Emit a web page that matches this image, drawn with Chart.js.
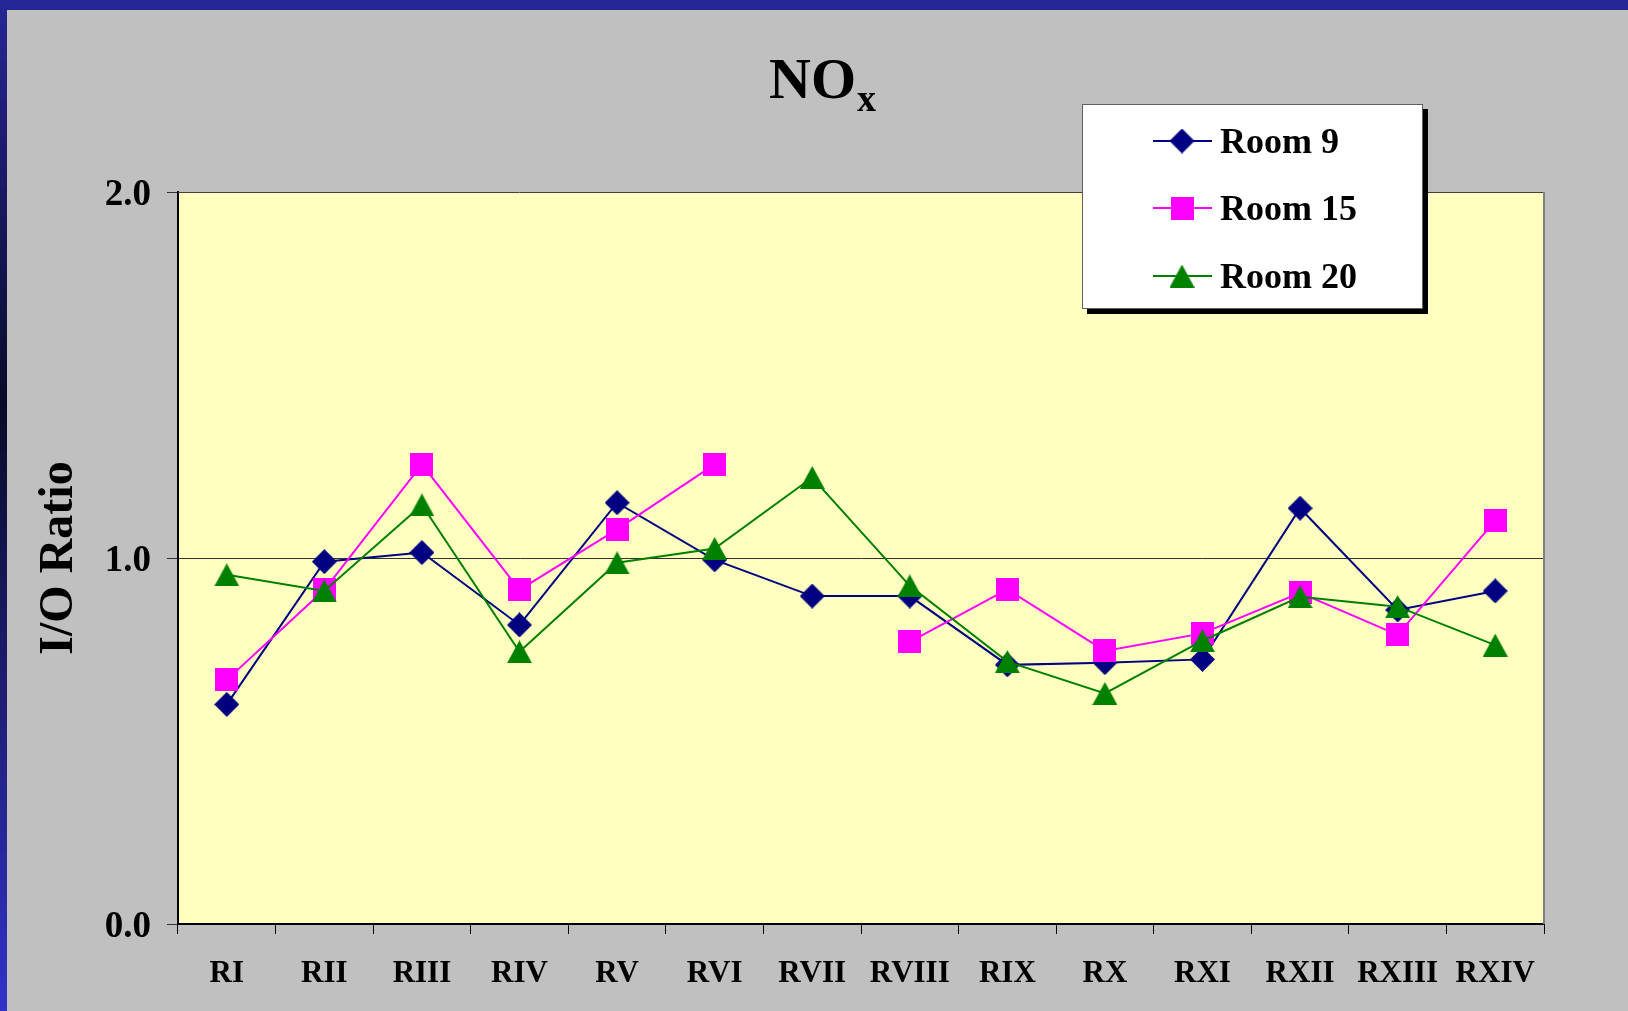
<!DOCTYPE html>
<html>
<head>
<meta charset="utf-8">
<title>NOx I/O Ratio</title>
<script src="https://cdn.jsdelivr.net/npm/chart.js@4.4.1/dist/chart.umd.min.js"></script>
<style>
  html, body { margin: 0; padding: 0; background: #c0c0c0; }
  canvas { display: block; }
</style>
</head>
<body>
<canvas id="noxChart" width="1628" height="1011"></canvas>
<script>
// --- data ---
const rooms = ['RI', 'RII', 'RIII', 'RIV', 'RV', 'RVI', 'RVII', 'RVIII', 'RIX', 'RX', 'RXI', 'RXII', 'RXIII', 'RXIV'];
const room9 = [0.60, 0.99, 1.015, 0.817, 1.151, 0.995, 0.896, 0.896, 0.708, 0.714, 0.723, 1.136, 0.858, 0.91];
const room15 = [0.667, 0.913, 1.256, 0.913, 1.078, 1.256, null, 0.771, 0.914, 0.746, 0.794, 0.905, 0.79, 1.102];
const room20 = [0.954, 0.91, 1.145, 0.744, 0.987, 1.026, 1.22, 0.924, 0.717, 0.63, 0.774, 0.894, 0.867, 0.762];
const yTicks = [0, 1, 2];

const SERIF = '"Liberation Serif", "Times New Roman", serif';
const NAVY = '#000080';
const MAGENTA = '#ff00ff';
const GREEN = '#008000';

// marker bitmaps, so every shape is centred on its point like in Excel
function makeMarker(shape, color, w, h) {
  const c = document.createElement('canvas');
  c.width = w; c.height = h;
  const g = c.getContext('2d');
  g.fillStyle = color;
  g.beginPath();
  if (shape === 'diamond') {
    g.moveTo(w / 2, 0); g.lineTo(w, h / 2); g.lineTo(w / 2, h); g.lineTo(0, h / 2);
  } else if (shape === 'triangle') {
    g.moveTo(w / 2, 0); g.lineTo(w, h); g.lineTo(0, h);
  } else {
    g.rect(0, 0, w, h);
  }
  g.closePath();
  g.fill();
  return c;
}
const diamond = makeMarker('diamond', NAVY, 25, 25);
const square = makeMarker('square', MAGENTA, 23, 23);
const triangle = makeMarker('triangle', GREEN, 25, 23);

// grey slide, blue frame, yellow plot area
const backdrop = {
  id: 'backdrop',
  beforeDraw(chart) {
    const { ctx, width, height, chartArea: a } = chart;
    ctx.save();
    ctx.fillStyle = '#c0c0c0';
    ctx.fillRect(0, 0, width, height);
    ctx.fillStyle = '#262697';
    ctx.fillRect(0, 0, width, 10);
    const grad = ctx.createLinearGradient(0, 0, 0, height);
    grad.addColorStop(0, '#262697');
    grad.addColorStop(0.4, '#0a0a28');
    grad.addColorStop(1, '#3232c8');
    ctx.fillStyle = grad;
    ctx.fillRect(0, 0, 7, height);
    ctx.fillStyle = '#ffffc0';
    ctx.fillRect(a.left, a.top, a.right - a.left, a.bottom - a.top);
    ctx.restore();
  },
  beforeDatasetsDraw(chart) {
    const { ctx, chartArea: a } = chart;
    ctx.save();
    ctx.lineWidth = 1;
    ctx.strokeStyle = '#404040';
    ctx.beginPath();
    ctx.moveTo(a.left, a.top + 0.5);
    ctx.lineTo(a.right, a.top + 0.5);
    ctx.stroke();
    ctx.strokeStyle = '#808080';
    ctx.lineWidth = 2;
    ctx.beginPath();
    ctx.moveTo(a.right, a.top);
    ctx.lineTo(a.right, a.bottom);
    ctx.stroke();
    ctx.restore();
  }
};

// "NOx" with subscript x
const noxTitle = {
  id: 'noxTitle',
  afterDraw(chart) {
    const ctx = chart.ctx;
    ctx.save();
    ctx.fillStyle = '#000';
    ctx.textBaseline = 'alphabetic';
    ctx.font = 'bold 58px ' + SERIF;
    const wMain = ctx.measureText('NO').width;
    ctx.font = 'bold 38px ' + SERIF;
    const wSub = ctx.measureText('x').width;
    const x0 = 822 - (wMain + wSub) / 2;
    ctx.font = 'bold 58px ' + SERIF;
    ctx.fillText('NO', x0, 98);
    ctx.font = 'bold 38px ' + SERIF;
    ctx.fillText('x', x0 + wMain + 1, 111);
    ctx.restore();
  }
};

// boxed legend with shadow, line + marker samples
const boxLegend = {
  id: 'boxLegend',
  afterDraw(chart) {
    const ctx = chart.ctx;
    const bx = 1082, by = 104, bw = 341, bh = 205;
    ctx.save();
    ctx.fillStyle = '#000';
    ctx.fillRect(bx + 5, by + 5, bw, bh);
    ctx.fillStyle = '#fff';
    ctx.fillRect(bx, by, bw, bh);
    ctx.strokeStyle = '#606060';
    ctx.lineWidth = 1;
    ctx.strokeRect(bx + 0.5, by + 0.5, bw - 1, bh - 1);
    const rows = [141, 208, 276];
    chart.data.datasets.forEach((ds, i) => {
      const y = rows[i];
      ctx.strokeStyle = ds.borderColor;
      ctx.lineWidth = 2;
      ctx.beginPath();
      ctx.moveTo(1153, y);
      ctx.lineTo(1212, y);
      ctx.stroke();
      const m = ds.pointStyle;
      ctx.drawImage(m, 1182 - m.width / 2, y - m.height / 2);
      ctx.fillStyle = '#000';
      ctx.font = 'bold 36px ' + SERIF;
      ctx.textBaseline = 'alphabetic';
      ctx.fillText(ds.label, 1220, y + 12);
    });
    ctx.restore();
  }
};

new Chart(document.getElementById('noxChart'), {
  type: 'line',
  data: {
    labels: rooms,
    datasets: [
      { label: 'Room 9', data: room9, borderColor: NAVY, pointStyle: diamond, order: 3 },
      { label: 'Room 15', data: room15, borderColor: MAGENTA, pointStyle: square, order: 2 },
      { label: 'Room 20', data: room20, borderColor: GREEN, pointStyle: triangle, order: 1 }
    ]
  },
  options: {
    responsive: false,
    devicePixelRatio: 1,
    animation: false,
    spanGaps: false,
    layout: { padding: { top: 192, right: 84, left: 31, bottom: 0 } },
    elements: {
      line: { borderWidth: 2, tension: 0, fill: false },
      point: { radius: 12, hoverRadius: 12 }
    },
    plugins: {
      legend: { display: false },
      title: { display: false },
      tooltip: { enabled: false }
    },
    scales: {
      x: {
        type: 'category',
        offset: true,
        afterFit(s) { s.height = 87; },
        grid: {
          offset: true,
          drawOnChartArea: false,
          tickLength: 10,
          tickColor: '#000'
        },
        border: { color: '#000', width: 2 },
        ticks: {
          color: '#000',
          padding: 21,
          maxRotation: 0,
          autoSkip: false,
          font: { family: SERIF, size: 31, weight: 'bold' }
        }
      },
      y: {
        min: 0,
        max: 2,
        afterFit(s) { s.width = 147; },
        afterBuildTicks(s) { s.ticks = yTicks.map(v => ({ value: v })); },
        grid: {
          color: ctx => (ctx.tick && ctx.tick.value === 1 ? '#333' : 'rgba(0,0,0,0)'),
          tickColor: '#333',
          tickLength: 11,
          lineWidth: 1
        },
        border: { color: '#000', width: 2 },
        ticks: {
          color: '#000',
          padding: 16,
          labelOffset: 3,
          font: { family: SERIF, size: 37, weight: 'bold' },
          callback: v => v.toFixed(1)
        },
        title: {
          display: true,
          text: 'I/O Ratio',
          color: '#000',
          padding: 0,
          font: { family: SERIF, size: 48, weight: 'bold' }
        }
      }
    }
  },
  plugins: [backdrop, noxTitle, boxLegend]
});
</script>
</body>
</html>
